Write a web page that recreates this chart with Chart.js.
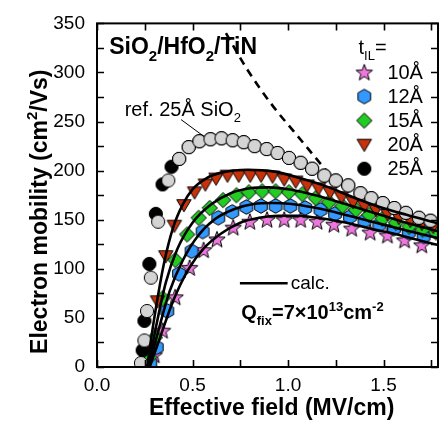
<!DOCTYPE html>
<html>
<head>
<meta charset="utf-8">
<script src="https://cdn.jsdelivr.net/npm/chart.js@4.4.1/dist/chart.umd.min.js"></script>
<style>
html, body { margin: 0; padding: 0; background: #fff; overflow: hidden; }
canvas { display: block; }
</style>
</head>
<body>
<canvas id="chart" width="445" height="425"></canvas>
<script>
// Effective field (MV/cm) vs electron mobility (cm2/Vs)

// ref. 25A SiO2 (grey circles)
const refX = [0.23, 0.248, 0.262, 0.282, 0.32, 0.373, 0.43, 0.48, 0.536, 0.594, 0.652, 0.71, 0.768, 0.825, 0.888, 0.945, 1.005, 1.066, 1.126, 1.19, 1.25, 1.315, 1.379, 1.436, 1.496, 1.556, 1.617, 1.685, 1.746];
const refY = [4, 27, 57, 91, 148, 190, 212, 224, 230, 232, 233, 231, 229, 225, 222, 218, 213, 208, 202, 195, 190, 185, 177, 172, 167, 162, 157, 152, 149];

// t_IL = 25A (black circles, mostly hidden under the reference)
const il25X = [0.239, 0.248, 0.274, 0.308, 0.343, 0.39, 0.43, 0.48, 0.536, 0.594, 0.652, 0.71, 0.768, 0.825, 0.888, 0.945, 1.005, 1.066, 1.126, 1.19, 1.25, 1.315, 1.379, 1.436, 1.496, 1.556, 1.617, 1.685, 1.746];
const il25Y = [17, 47, 105, 156, 186, 204, 212, 224, 230, 232, 233, 231, 229, 225, 222, 218, 213, 208, 202, 195, 190, 185, 177, 172, 167, 162, 157, 152, 149];

// t_IL = 20A
const il20X = [0.274, 0.317, 0.36, 0.405, 0.455, 0.511, 0.567, 0.623, 0.683, 0.742, 0.802, 0.859, 0.919, 0.98, 1.04, 1.1, 1.16, 1.22, 1.28, 1.341, 1.4, 1.46, 1.52, 1.58, 1.64, 1.70, 1.76];
const il20Y = [20, 67, 113, 144, 165, 178, 186, 192, 195, 195, 195, 195, 194, 191, 189, 185, 182, 178, 173, 168, 164, 160, 156, 152, 149, 146, 143];

// t_IL = 15A
const il15X = [0.274, 0.303, 0.343, 0.41, 0.472, 0.532, 0.59, 0.66, 0.73, 0.795, 0.865, 0.935, 1.005, 1.075, 1.145, 1.215, 1.285, 1.355, 1.425, 1.495, 1.565, 1.635, 1.705, 1.775];
const il15Y = [10, 30, 70, 109, 135, 152, 162, 170, 175, 178, 179, 179, 178, 176, 172, 168, 164, 160, 155, 151, 147, 143, 140, 137];

// t_IL = 12A
const il12X = [0.279, 0.313, 0.368, 0.429, 0.495, 0.553, 0.635, 0.708, 0.782, 0.858, 0.935, 1.012, 1.09, 1.17, 1.246, 1.324, 1.40, 1.478, 1.555, 1.632, 1.71];
const il12Y = [4, 20, 57, 95, 118, 138, 152, 158, 163, 164, 164, 164, 162, 160, 156, 153, 149, 145, 141, 137, 133];

// t_IL = 10A
const il10X = [0.3, 0.343, 0.409, 0.485, 0.558, 0.628, 0.713, 0.8, 0.89, 0.98, 1.066, 1.152, 1.24, 1.333, 1.43, 1.52, 1.61, 1.70];
const il10Y = [12, 37, 71, 101, 119, 130, 142, 148, 150, 150, 150, 148, 145, 141, 137, 134, 129, 124];

// calculated curves (Qfix = 7e13 cm-2)
const calc20X = [0.262, 0.3, 0.35, 0.4, 0.45, 0.5, 0.57, 0.65, 0.79, 0.93, 1.07, 1.2, 1.34, 1.48, 1.62, 1.79];
const calc20Y = [0, 50, 105, 143, 166, 181, 192, 198, 201, 199, 192, 184, 173, 163, 155, 146];
const calc15X = [0.268, 0.31, 0.36, 0.42, 0.5, 0.6, 0.7, 0.8, 0.9, 1.0, 1.1, 1.2, 1.3, 1.4, 1.5, 1.6, 1.79];
const calc15Y = [0, 42, 86, 120, 147, 166, 177, 182, 183, 181, 177, 172, 166, 160, 154, 148, 138];
const calc12X = [0.272, 0.32, 0.38, 0.45, 0.53, 0.62, 0.72, 0.82, 0.92, 1.02, 1.12, 1.22, 1.32, 1.42, 1.52, 1.62, 1.79];
const calc12Y = [0, 36, 77, 109, 134, 151, 161, 166, 167, 166, 163, 159, 154, 149, 144, 139, 131];
const calc10X = [0.276, 0.33, 0.4, 0.48, 0.56, 0.65, 0.75, 0.85, 0.95, 1.05, 1.15, 1.25, 1.35, 1.45, 1.55, 1.65, 1.79];
const calc10Y = [0, 30, 68, 100, 121, 136, 147, 152, 154, 154, 152, 149, 145, 140, 136, 131, 124];

// universal SiO2 curve (dashed)
const univX = [0.675, 0.79, 0.92, 1.03, 1.2];
const univY = [340, 302, 266, 240, 200];

const tilLabels = ['10Å', '12Å', '15Å', '20Å', '25Å'];
const xTicks = [0, 0.5, 1.0, 1.5];
const yTicks = [0, 50, 100, 150, 200, 250, 300, 350];

const FONT = '"Liberation Sans", Arial, Helvetica, sans-serif';

function pts(xs, ys) {
    return xs.map((x, i) => ({ x: x, y: ys[i] }));
}

// marker images
function marker(drawShape, fill) {
    const c = document.createElement('canvas');
    c.width = 20;
    c.height = 20;
    const g = c.getContext('2d');
    g.beginPath();
    drawShape(g, 10, 10);
    g.closePath();
    g.fillStyle = fill;
    g.fill();
    g.lineWidth = 1;
    g.strokeStyle = '#000';
    g.stroke();
    return c;
}
function circle(g, cx, cy) { g.arc(cx, cy, 6.6, 0, Math.PI * 2); }
function triDown(g, cx, cy) {
    g.moveTo(cx - 7.2, cy - 5.3);
    g.lineTo(cx + 7.2, cy - 5.3);
    g.lineTo(cx, cy + 6.8);
}
function diamond(g, cx, cy) {
    g.moveTo(cx, cy - 7.6);
    g.lineTo(cx + 7.6, cy);
    g.lineTo(cx, cy + 7.6);
    g.lineTo(cx - 7.6, cy);
}
function hexagon(g, cx, cy) {
    for (let i = 0; i < 6; i++) {
        const a = Math.PI / 2 + i * Math.PI / 3;
        const px = cx + 7.3 * Math.cos(a), py = cy + 7.3 * Math.sin(a);
        if (i === 0) g.moveTo(px, py); else g.lineTo(px, py);
    }
}
function star(g, cx, cy) {
    for (let i = 0; i < 10; i++) {
        const r = i % 2 === 0 ? 8.6 : 3.6;
        const a = -Math.PI / 2 + i * Math.PI / 5;
        const px = cx + r * Math.cos(a), py = cy + 0.5 + r * Math.sin(a);
        if (i === 0) g.moveTo(px, py); else g.lineTo(px, py);
    }
}

const mkRef = marker(circle, '#d4d4d4');
const mk25 = marker(circle, '#000000');
const mk20 = marker(triDown, '#c8320a');
const mk15 = marker(diamond, '#22cc22');
const mk12 = marker(hexagon, '#3399ff');
const mk10 = marker(star, '#ee77dd');
const legendMarks = [mk10, mk12, mk15, mk20, mk25];

function symbols(xs, ys, img, order) {
    return {
        data: pts(xs, ys),
        pointStyle: img,
        pointRadius: 6,
        showLine: false,
        order: order
    };
}
function curve(xs, ys, dash, order) {
    return {
        data: pts(xs, ys),
        showLine: true,
        pointRadius: 0,
        borderColor: '#000',
        borderWidth: 2.6,
        borderDash: dash,
        cubicInterpolationMode: 'monotone',
        fill: false,
        order: order
    };
}

// text with sub/superscripts: parts = [[text, 'n'|'sub'|'sup'], ...]
function drawRich(ctx, parts, x, y, size, weight, align) {
    const fontOf = p => weight + ' ' + (p[1] === 'n' ? size : Math.round(size * 0.64)) + 'px ' + FONT;
    let w = 0;
    parts.forEach(p => { ctx.font = fontOf(p); w += ctx.measureText(p[0]).width; });
    let cx = align === 'center' ? x - w / 2 : x;
    parts.forEach(p => {
        ctx.font = fontOf(p);
        const dy = p[1] === 'sub' ? size * 0.3 : (p[1] === 'sup' ? -size * 0.42 : 0);
        ctx.fillText(p[0], cx, y + dy);
        cx += ctx.measureText(p[0]).width;
    });
}

const frameAndNotes = {
    id: 'frameAndNotes',
    afterDatasetsDraw(chart) {
        const ctx = chart.ctx;
        const xs = chart.scales.x, ys = chart.scales.y;
        const a = chart.chartArea;
        const X = v => xs.getPixelForValue(v);
        const Y = v => ys.getPixelForValue(v);
        ctx.save();
        ctx.strokeStyle = '#000';
        ctx.fillStyle = '#000';

        // frame + inward ticks
        ctx.lineWidth = 2;
        ctx.strokeRect(a.left, a.top, a.right - a.left, a.bottom - a.top);
        ctx.lineWidth = 1.6;
        ctx.beginPath();
        for (let v = 0; v <= 1.76; v += 0.25) {
            const px = Math.round(X(v)) + 0.5;
            ctx.moveTo(px, a.bottom); ctx.lineTo(px, a.bottom - 7);
            ctx.moveTo(px, a.top); ctx.lineTo(px, a.top + 7);
        }
        for (let v = 0; v <= 350; v += 25) {
            const py = Math.round(Y(v)) + 0.5;
            ctx.moveTo(a.left, py); ctx.lineTo(a.left + 7, py);
            ctx.moveTo(a.right, py); ctx.lineTo(a.right - 7, py);
        }
        ctx.stroke();

        ctx.textBaseline = 'alphabetic';
        ctx.textAlign = 'left';

        // title of the stack
        drawRich(ctx, [['SiO', 'n'], ['2', 'sub'], ['/HfO', 'n'], ['2', 'sub'], ['/TiN', 'n']],
            X(0.064), Y(318.7), 23, 'bold', 'left');

        // legend
        drawRich(ctx, [['t', 'n'], ['IL', 'sub'], ['=', 'n']], X(1.369), Y(318.7), 20, 'normal', 'left');
        const rowY = [300, 275.5, 251, 226.5, 202];
        ctx.textBaseline = 'middle';
        ctx.font = '20px ' + FONT;
        tilLabels.forEach((lab, i) => {
            const img = legendMarks[i];
            ctx.drawImage(img, X(1.399) - img.width / 2, Y(rowY[i]) - img.height / 2);
            ctx.fillText(lab, X(1.52), Y(rowY[i]) + 1);
        });
        ctx.textBaseline = 'alphabetic';

        // reference label + leader
        drawRich(ctx, [['ref. 25Å SiO', 'n'], ['2', 'sub']], X(0.145), Y(255.3), 20, 'normal', 'left');
        ctx.lineWidth = 1;
        ctx.beginPath();
        ctx.moveTo(X(0.44), Y(252));
        ctx.lineTo(X(0.559), Y(235));
        ctx.stroke();

        // calc. key
        ctx.lineWidth = 2.6;
        ctx.beginPath();
        ctx.moveTo(X(0.748), Y(85.3));
        ctx.lineTo(X(0.998), Y(85.3));
        ctx.stroke();
        ctx.textBaseline = 'middle';
        ctx.font = '19px ' + FONT;
        ctx.fillText('calc.', X(1.014), Y(85.3) + 1);
        ctx.textBaseline = 'alphabetic';
        drawRich(ctx, [['Q', 'n'], ['fix', 'sub'], ['=7×10', 'n'], ['13', 'sup'], ['cm', 'n'], ['-2', 'sup']],
            X(0.755), Y(48.7), 20, 'bold', 'left');

        // axis titles
        drawRich(ctx, [['Effective field (MV/cm)', 'n']], 271.7, 415, 23, 'bold', 'center');
        ctx.translate(47, 211.7);
        ctx.rotate(-Math.PI / 2);
        drawRich(ctx, [['Electron mobility (cm', 'n'], ['2', 'sup'], ['/Vs)', 'n']], 0, 0, 23, 'bold', 'center');
        ctx.restore();
    }
};

new Chart(document.getElementById('chart').getContext('2d'), {
    type: 'scatter',
    data: {
        datasets: [
            curve(calc20X, calc20Y, [], 0),
            curve(calc15X, calc15Y, [], 0),
            curve(calc12X, calc12Y, [], 0),
            curve(calc10X, calc10Y, [], 0),
            symbols(refX, refY, mkRef, 1),
            curve(univX, univY, [8, 6], 2),
            symbols(il25X, il25Y, mk25, 3),
            symbols(il20X, il20Y, mk20, 4),
            symbols(il15X, il15Y, mk15, 5),
            symbols(il12X, il12Y, mk12, 6),
            symbols(il10X, il10Y, mk10, 7)
        ]
    },
    options: {
        responsive: false,
        animation: false,
        events: [],
        layout: { padding: { top: 17, right: 3, left: 0, bottom: 0 } },
        plugins: {
            legend: { display: false },
            tooltip: { enabled: false }
        },
        scales: {
            x: {
                type: 'linear',
                min: 0,
                max: 1.785,
                afterFit: s => { s.height = 58; },
                afterBuildTicks: s => { s.ticks = xTicks.map(v => ({ value: v })); },
                grid: { display: false, drawTicks: false },
                border: { display: false },
                ticks: {
                    padding: 7,
                    color: '#000',
                    maxRotation: 0,
                    font: { family: FONT, size: 19 },
                    callback: v => Number(v).toFixed(1)
                }
            },
            y: {
                type: 'linear',
                min: 0,
                max: 350,
                afterFit: s => { s.width = 97; },
                afterBuildTicks: s => { s.ticks = yTicks.map(v => ({ value: v })); },
                grid: { display: false, drawTicks: false },
                border: { display: false },
                ticks: {
                    padding: 12,
                    color: '#000',
                    font: { family: FONT, size: 19 },
                    callback: v => String(v)
                }
            }
        }
    },
    plugins: [frameAndNotes]
});
</script>
</body>
</html>
